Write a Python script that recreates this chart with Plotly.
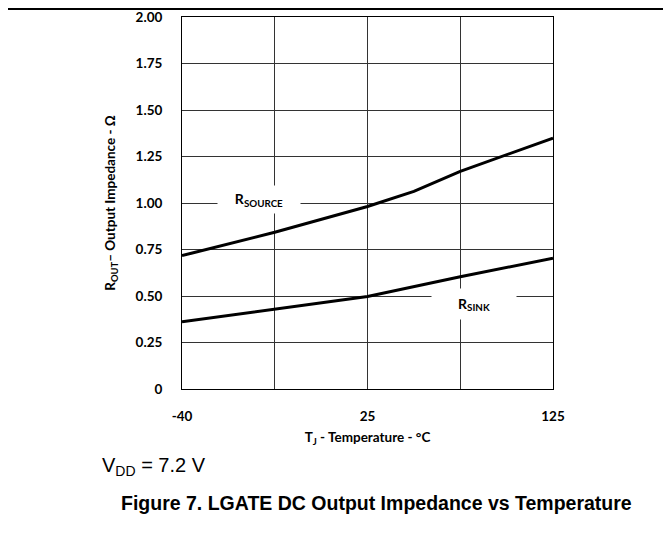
import plotly.graph_objects as go

# Category positions of the temperature axis (equal spacing, 5 gridlines)
x_tick_pos = [0, 1, 2, 3, 4]
x_tick_labels = ["-40", "", "25", "", "125"]

# R_SOURCE curve (position index on category axis, ohms)
source_pos = [0, 1, 2, 2.5, 3, 4]
source_vals = [0.717, 0.843, 0.981, 1.062, 1.170, 1.349]

# R_SINK curve
sink_pos = [0, 1, 2, 3, 4]
sink_vals = [0.362, 0.430, 0.497, 0.604, 0.703]

y_tick_vals = [0, 0.25, 0.5, 0.75, 1.0, 1.25, 1.5, 1.75, 2.0]
y_tick_labels = ["0", "0.25", "0.50", "0.75", "1.00", "1.25", "1.50", "1.75", "2.00"]

OFF = 8  # page body margin
W, H = 671 - OFF, 539 - OFF
L, T = 182 - OFF, 17 - OFF
pw, ph = 371, 372
R = W - L - pw
B = H - T - ph

def px_x(x):
    return (x - OFF - L) / pw

def px_y(y):
    return (T + ph - (y - OFF)) / ph

fig = go.Figure()
fig.add_trace(go.Scatter(x=source_pos, y=source_vals, mode="lines",
                         line=dict(color="black", width=3), showlegend=False))
fig.add_trace(go.Scatter(x=sink_pos, y=sink_vals, mode="lines",
                         line=dict(color="black", width=3), showlegend=False))

tickfont = dict(family="Lato", size=13.5, color="black", weight="bold")
titlefont = dict(family="Lato", size=13.5, color="black", weight="bold")
fig.update_xaxes(range=[0, 4], tickvals=x_tick_pos, ticktext=x_tick_labels,
                 showgrid=True, gridcolor="#333", gridwidth=1,
                 showline=True, mirror=True, linecolor="black", linewidth=1,
                 zeroline=False, ticks="", tickfont=tickfont, ticklabelstandoff=15,
                 title=dict(text="T<sub>J</sub> - Temperature - °C", font=titlefont,
                            standoff=9),
                 automargin=False)
fig.update_yaxes(range=[0, 2], tickvals=y_tick_vals, ticktext=y_tick_labels,
                 showgrid=True, gridcolor="#333", gridwidth=1,
                 showline=True, mirror=True, linecolor="black", linewidth=1,
                 zeroline=False, ticks="", tickfont=tickfont, ticklabelstandoff=16,
                 title=dict(text="R<sub>OUT</sub>– Output Impedance - Ω", font=titlefont,
                            standoff=16),
                 automargin=False)

lblfont = dict(family="Lato", size=14, color="black", weight="bold")
fig.add_annotation(x=0.833, y=1.02, xref="x", yref="y", text="R<sub>SOURCE</sub>",
                   showarrow=False, bgcolor="white", width=80, height=25,
                   font=lblfont)
fig.add_annotation(x=3.15, y=0.457, xref="x", yref="y", text="R<sub>SINK</sub>",
                   showarrow=False, bgcolor="white", width=82, height=28,
                   font=lblfont)

fig.add_annotation(x=px_x(100), y=px_y(466), xref="paper", yref="paper",
                   xanchor="left", yanchor="middle", showarrow=False,
                   text="V<sub>DD</sub> = 7.2 V",
                   font=dict(family="Liberation Sans", size=20, color="black"))
fig.add_annotation(x=px_x(376.5), y=px_y(503), xref="paper", yref="paper",
                   xanchor="center", yanchor="middle", showarrow=False,
                   text="<b>Figure 7. LGATE DC Output Impedance vs Temperature</b>",
                   font=dict(family="Liberation Sans", size=19.5, color="black"))

# Top rule (as high on the page as the figure allows)
fig.add_shape(type="line", xref="paper", yref="paper",
              x0=px_x(OFF), x1=px_x(671), y0=px_y(OFF + 1), y1=px_y(OFF + 1),
              line=dict(color="black", width=2))

fig.update_layout(width=W, height=H, margin=dict(l=L, r=R, t=T, b=B),
                  plot_bgcolor="white", paper_bgcolor="white")
fig.write_html("out.html")
